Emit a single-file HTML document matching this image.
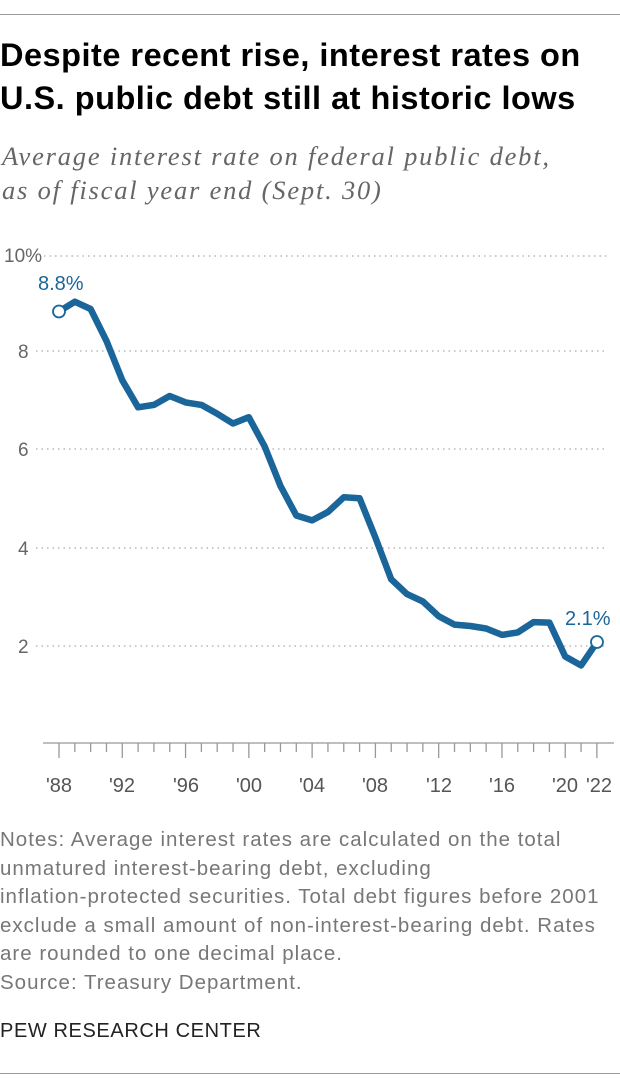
<!DOCTYPE html>
<html><head><style>
body{margin:0;width:620px;height:1088px;background:#fff;position:relative;overflow:hidden;font-family:"Liberation Sans",sans-serif}
.t{position:absolute;left:0;top:34px;font-weight:bold;font-size:32.5px;line-height:43px;color:#000;letter-spacing:0.5px}
.s{position:absolute;left:2px;top:139px;font-family:"Liberation Serif",serif;font-style:italic;font-size:26.5px;line-height:34px;color:#666;letter-spacing:1.8px}
.n{position:absolute;left:0;top:826px;font-size:20.5px;line-height:28.5px;color:#777;width:660px;letter-spacing:1.0px}
.p{position:absolute;left:0;top:1020px;font-size:20px;color:#222;letter-spacing:0.6px}
.r{position:absolute;left:0;width:620px;height:1px;background:#999}
</style></head><body>
<div class="r" style="top:14px"></div>
<div class="t">Despite recent rise, interest rates on<br>U.S. public debt still at historic lows</div>
<div class="s">Average interest rate on federal public debt,<br>as of fiscal year end (Sept. 30)</div>
<svg width="620" height="820" style="position:absolute;left:0;top:0" font-family="Liberation Sans, sans-serif">
<g stroke="#aaa" stroke-width="1.2" stroke-dasharray="1.5,4">
<line x1="44" x2="608" y1="256" y2="256"/>
<line x1="36" x2="608" y1="351" y2="351"/>
<line x1="36" x2="608" y1="449" y2="449"/>
<line x1="36" x2="608" y1="548" y2="548"/>
<line x1="36" x2="608" y1="646" y2="646"/>
</g>
<g fill="#666" font-size="19">
<text x="4" y="262">10%</text>
<text x="18" y="358">8</text>
<text x="18" y="456">6</text>
<text x="18" y="555">4</text>
<text x="18" y="653">2</text>
</g>
<line x1="43" x2="614" y1="743" y2="743" stroke="#999" stroke-width="1.3"/>
<g stroke="#999" stroke-width="1.3" id="ticks"></g>
<g fill="#555" font-size="20" text-anchor="middle">
<text x="59" y="792">'88</text><text x="122" y="792">'92</text><text x="186" y="792">'96</text><text x="249" y="792">'00</text><text x="312" y="792">'04</text><text x="375" y="792">'08</text><text x="439" y="792">'12</text><text x="502" y="792">'16</text><text x="565" y="792">'20</text><text x="599" y="792">'22</text>
</g>
<polyline id="ln" fill="none" stroke="#1a6599" stroke-width="6.5" stroke-linejoin="round" points=""/>
<circle cx="59" cy="311.5" r="6" fill="#fff" stroke="#1a6599" stroke-width="1.8"/>
<circle cx="597" cy="642" r="6" fill="#fff" stroke="#1a6599" stroke-width="1.8"/>
<text x="38" y="290" fill="#1a6599" font-size="20">8.8%</text>
<text x="565" y="625" fill="#1a6599" font-size="20">2.1%</text>
</svg>
<script>
var v=[8.8,9.0,8.85,8.2,7.4,6.85,6.9,7.08,6.95,6.9,6.72,6.52,6.65,6.05,5.25,4.65,4.55,4.72,5.02,5.0,4.2,3.35,3.05,2.9,2.6,2.43,2.4,2.35,2.22,2.27,2.48,2.47,1.78,1.6,2.07];
var p=v.map(function(y,i){return (59+i*15.82).toFixed(1)+","+(744-y*49.15).toFixed(1)}).join(" ");
document.getElementById("ln").setAttribute("points",p);
var g=document.getElementById("ticks"),h="";
for(var i=0;i<=34;i++){var x=59+i*15.82,m=(i%4==0||i==34);h+='<line x1="'+x+'" x2="'+x+'" y1="743" y2="'+(m?758:752)+'"/>';}
g.innerHTML=h;
</script>
<div class="n">Notes: Average interest rates are calculated on the total<br>unmatured interest-bearing debt, excluding<br>inflation-protected securities. Total debt figures before 2001<br>exclude a small amount of non-interest-bearing debt. Rates<br>are rounded to one decimal place.<br>Source: Treasury Department.</div>
<div class="p">PEW RESEARCH CENTER</div>
<div class="r" style="top:1073px"></div>
</body></html>
